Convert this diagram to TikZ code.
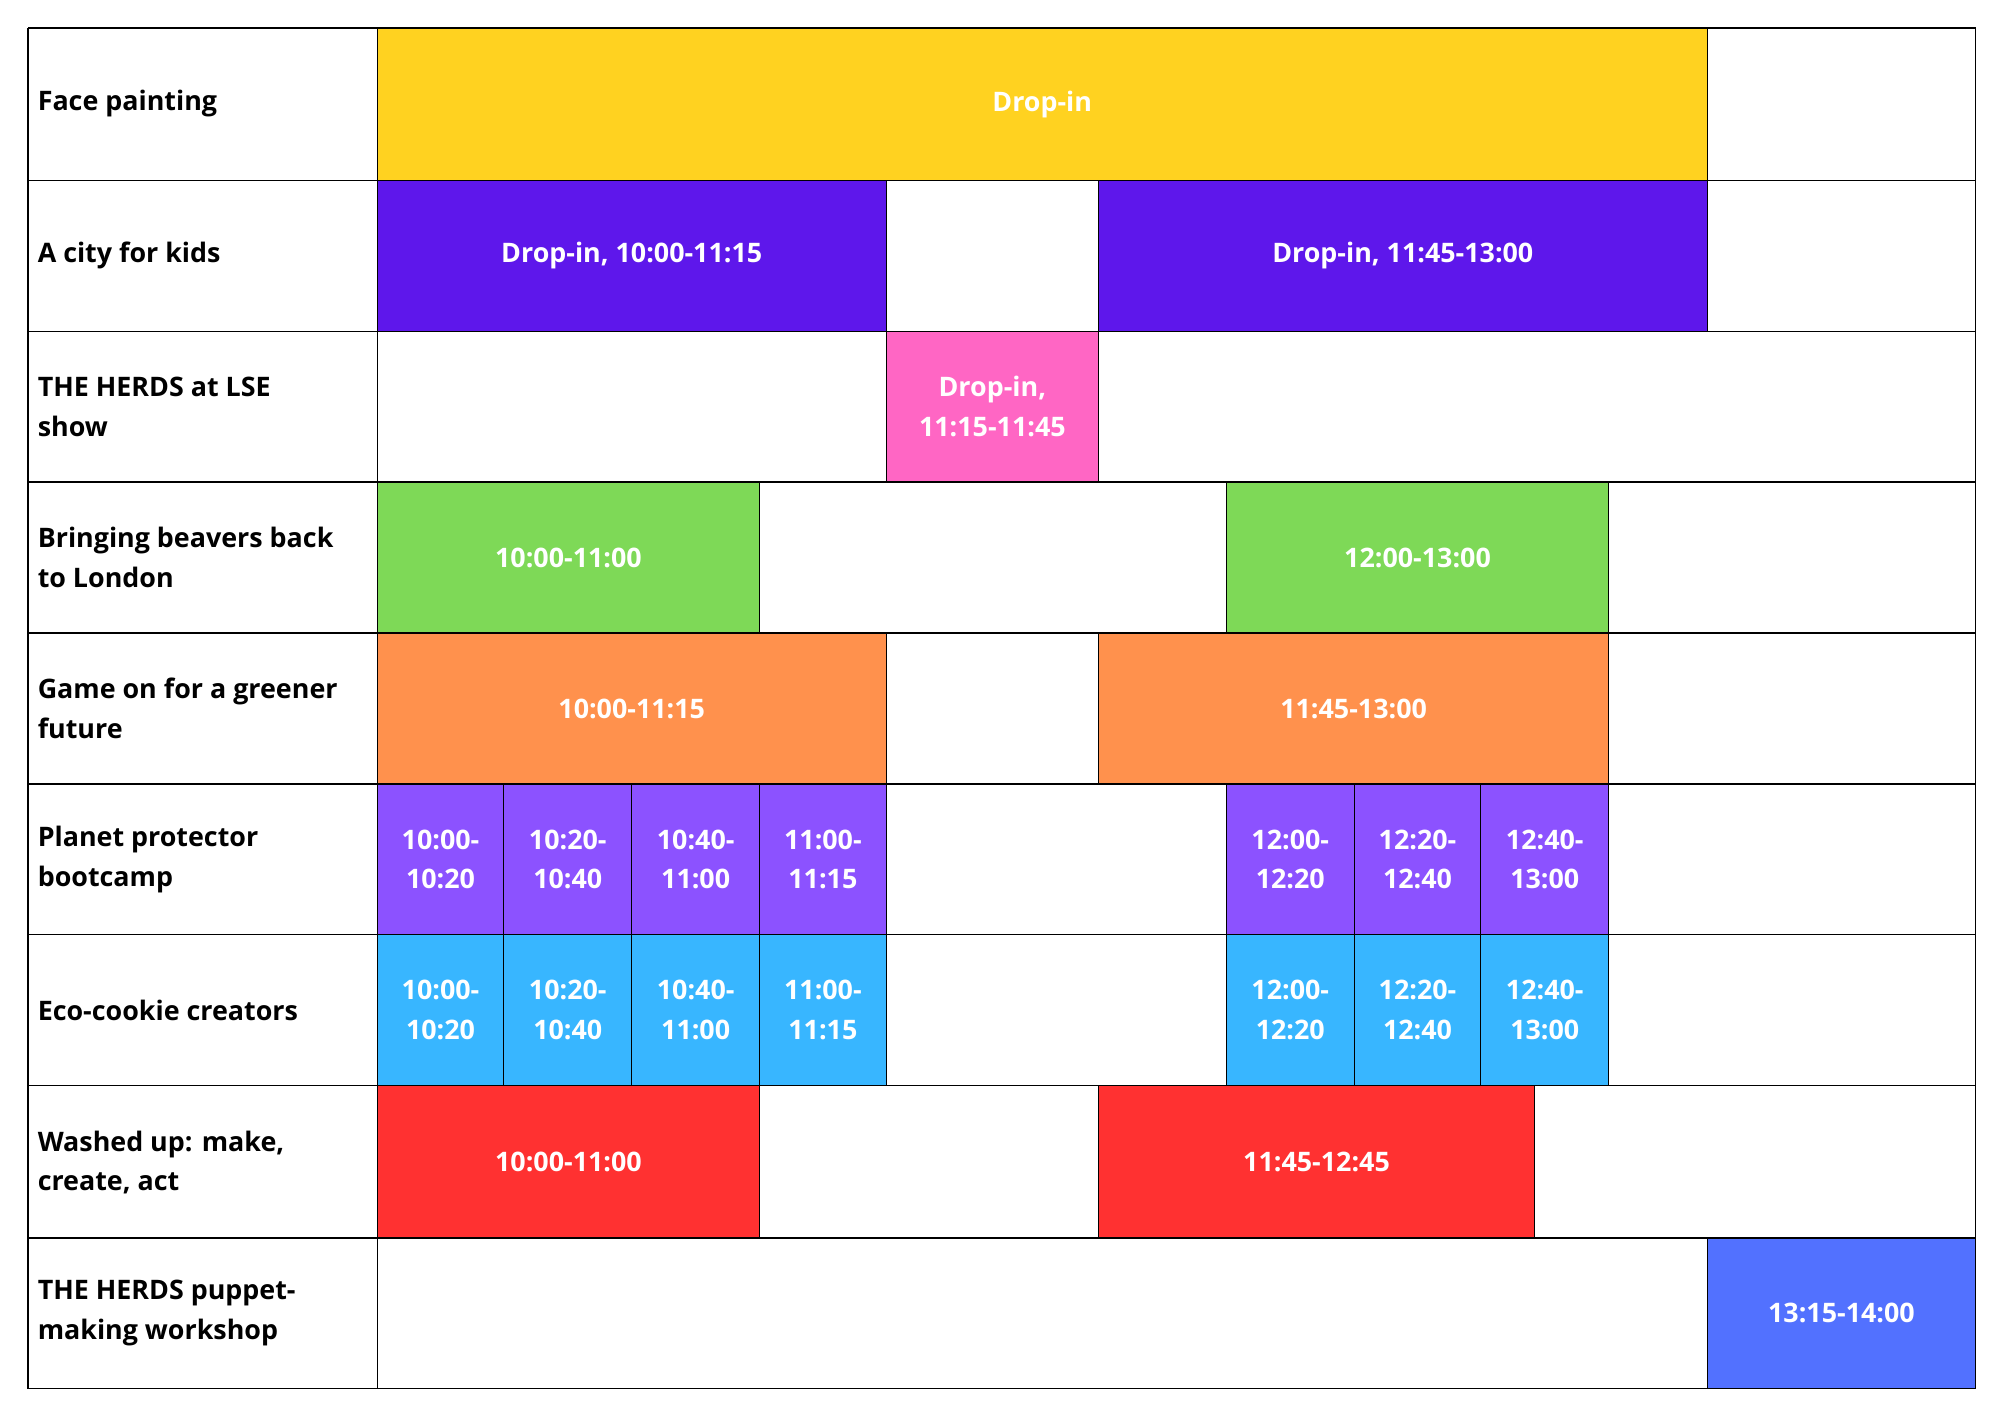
\documentclass[tikz,border=0pt]{standalone}
\usepackage{fontspec}
\setmainfont{Open Sans}
\definecolor{cyel}{HTML}{FFD220}
\definecolor{cpur}{HTML}{5E17EB}
\definecolor{cpink}{HTML}{FF66C4}
\definecolor{cgreen}{HTML}{7ED957}
\definecolor{corange}{HTML}{FF914D}
\definecolor{cviolet}{HTML}{8C52FF}
\definecolor{ccyan}{HTML}{38B6FF}
\definecolor{cred}{HTML}{FF3131}
\definecolor{cblue}{HTML}{5271FF}
\begin{document}
\begin{tikzpicture}[x=1pt,y=-1pt,
  lab/.style={anchor=west,align=left,font=\bfseries\fontsize{21}{31}\selectfont,text=black},
  blk/.style={draw=black,line width=1pt,text=white,align=center,font=\bfseries\fontsize{21}{31}\selectfont}]
\useasboundingbox (0,0) rectangle (1564,1106);
\fill[white] (0,0) rectangle (1564,1106);
\def\rows{22,141,259,377,495,613,731,849,968,1086}
\foreach \y in \rows {\draw[line width=1pt] (22,\y) -- (1545,\y);}
\draw[line width=1pt] (22,22) -- (22,1086) (295,22) -- (295,1086) (1545,22) -- (1545,1086);
% block macro
\newcommand\blkk[6]{\node[blk,fill=#5,minimum width=#2-#1,minimum height=#4-#3,inner sep=0pt] (#6) at ({(#1+#2)/2},{(#3+#4)/2}) {};}
\newcommand\bl[7]{\path[blk,fill=#5] (#1,#3) rectangle (#2,#4) node[midway,blk,draw=none] (#6) {#7};}
\bl{295}{1335}{22}{141}{cyel}{a1}{Drop-in}
\bl{295}{693}{141}{259}{cpur}{b1}{Drop-in, 10:00-11:15}
\bl{859}{1335}{141}{259}{cpur}{b2}{Drop-in, 11:45-13:00}
\bl{693}{859}{259}{377}{cpink}{c1}{Drop-in,\\11:15-11:45}
\bl{295}{594}{377}{495}{cgreen}{d1}{10:00-11:00}
\bl{959}{1258}{377}{495}{cgreen}{d2}{12:00-13:00}
\bl{295}{693}{495}{613}{corange}{e1}{10:00-11:15}
\bl{859}{1258}{495}{613}{corange}{e2}{11:45-13:00}
\bl{295}{394}{613}{731}{cviolet}{f1}{10:00-\\10:20}
\bl{394}{494}{613}{731}{cviolet}{f2}{10:20-\\10:40}
\bl{494}{594}{613}{731}{cviolet}{f3}{10:40-\\11:00}
\bl{594}{693}{613}{731}{cviolet}{f4}{11:00-\\11:15}
\bl{959}{1059}{613}{731}{cviolet}{f5}{12:00-\\12:20}
\bl{1059}{1158}{613}{731}{cviolet}{f6}{12:20-\\12:40}
\bl{1158}{1258}{613}{731}{cviolet}{f7}{12:40-\\13:00}
\bl{295}{394}{731}{849}{ccyan}{g1}{10:00-\\10:20}
\bl{394}{494}{731}{849}{ccyan}{g2}{10:20-\\10:40}
\bl{494}{594}{731}{849}{ccyan}{g3}{10:40-\\11:00}
\bl{594}{693}{731}{849}{ccyan}{g4}{11:00-\\11:15}
\bl{959}{1059}{731}{849}{ccyan}{g5}{12:00-\\12:20}
\bl{1059}{1158}{731}{849}{ccyan}{g6}{12:20-\\12:40}
\bl{1158}{1258}{731}{849}{ccyan}{g7}{12:40-\\13:00}
\bl{295}{594}{849}{968}{cred}{h1}{10:00-11:00}
\bl{859}{1200}{849}{968}{cred}{h2}{11:45-12:45}
\bl{1335}{1545}{968}{1086}{cblue}{i1}{13:15-14:00}
\node[lab] (l1) at (26,81) {Face painting};
\node[lab] (l2) at (26,200) {A city for kids};
\node[lab] (l3) at (26,318) {THE HERDS at LSE\\show};
\node[lab] (l4) at (26,436) {Bringing beavers back\\to London};
\node[lab] (l5) at (26,554) {Game on for a greener\\future};
\node[lab] (l6) at (26,672) {Planet protector\\bootcamp};
\node[lab] (l7) at (26,790) {Eco-cookie creators};
\node[lab] (l8) at (26,909) {Washed up: make,\\create, act};
\node[lab] (l9) at (26,1027) {THE HERDS puppet-\\making workshop};
\end{tikzpicture}
\end{document}
